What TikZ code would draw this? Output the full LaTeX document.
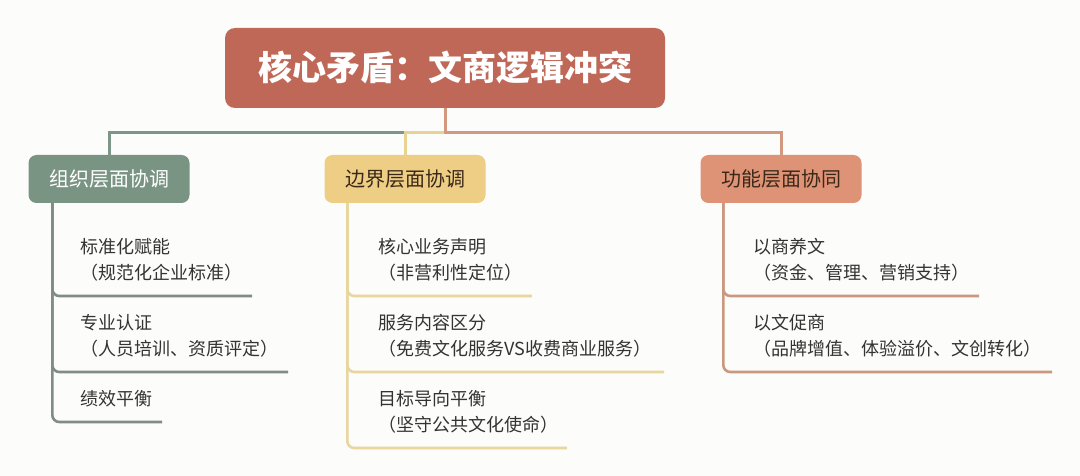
\documentclass[tikz,border=0pt]{standalone}
\usepackage{fontspec}
\setmainfont{Noto Sans CJK SC}
\usetikzlibrary{calc}

\definecolor{bgwhite}{RGB}{252,252,250}
\definecolor{rootred}{RGB}{192,104,88}
\definecolor{sage}{RGB}{122,148,132}
\definecolor{sageline}{RGB}{125,150,135}
\definecolor{sagetwig}{RGB}{128,140,132}
\definecolor{wheat}{RGB}{238,206,133}
\definecolor{wheatline}{RGB}{232,210,148}
\definecolor{wheattwig}{RGB}{232,214,158}
\definecolor{clay}{RGB}{222,146,118}
\definecolor{clayline}{RGB}{212,152,128}
\definecolor{claytwig}{RGB}{202,152,128}
\definecolor{darkink}{RGB}{58,40,24}
\definecolor{leafink}{RGB}{51,51,51}

\begin{document}
\begin{tikzpicture}[x=1pt,y=-1pt,
  box/.style={rounded corners=8pt, minimum width=161pt, minimum height=48pt, inner sep=0pt, font=\fontsize{20}{24}\selectfont},
  leaf/.style={anchor=west, align=left, inner sep=0pt, text=leafink, font=\fontsize{18}{26}\selectfont},
  link/.style={line width=3pt},
  twig/.style={line width=2.6pt, rounded corners=7pt}]

\useasboundingbox (0,0) rectangle (1080,476);
\fill[bgwhite] (0,0) rectangle (1080,476);

% root and the three branches
\node[fill=rootred, rounded corners=10pt, minimum width=440pt, minimum height=80pt, text=white, font=\fontsize{34}{38}\selectfont\bfseries] (R) at (445,68) {核心矛盾：文商逻辑冲突};
\node[box, fill=sage, text=white] (G) at (109,179) {组织层面协调};
\node[box, fill=wheat, text=darkink] (Y) at (405,179) {边界层面协调};
\node[box, fill=clay, text=darkink] (O) at (781,179) {功能层面协同};

\draw[link, sageline] (R.south) -- ++(0,24) -| (G.north);
\draw[link, wheatline] (R.south) -- ++(0,24) -| (Y.north);
\draw[link, clayline] (R.south) -- ++(0,24) -| (O.north);

% organisation
\coordinate (g1e) at (252,296);
\coordinate (g2e) at (288,372);
\coordinate (g3e) at (162,422);
\node[leaf] (g1) at (80,260) {标准化赋能\\（规范化企业标准）};
\node[leaf] (g2) at (80,335.5) {专业认证\\（人员培训、资质评定）};
\node[leaf] (g3) at (80,398.5) {绩效平衡};
\foreach \e in {g1e,g2e,g3e}
  \draw[twig, sagetwig] ([xshift=24pt]G.south west) |- (\e);

% boundary
\coordinate (y1e) at (532,296);
\coordinate (y2e) at (664,372);
\coordinate (y3e) at (567,448);
\node[leaf] (y1) at (378,260) {核心业务声明\\（非营利性定位）};
\node[leaf] (y2) at (378,335.5) {服务内容区分\\（免费文化服务VS收费商业服务）};
\node[leaf] (y3) at (378,411.5) {目标导向平衡\\（坚守公共文化使命）};
\foreach \e in {y1e,y2e,y3e}
  \draw[twig, wheattwig] ([xshift=23pt]Y.south west) |- (\e);

% function
\coordinate (o1e) at (979,296);
\coordinate (o2e) at (1052,372);
\node[leaf] (o1) at (753,260) {以商养文\\（资金、管理、营销支持）};
\node[leaf] (o2) at (753,335.5) {以文促商\\（品牌增值、体验溢价、文创转化）};
\foreach \e in {o1e,o2e}
  \draw[twig, claytwig] ([xshift=23pt]O.south west) |- (\e);

\end{tikzpicture}
\end{document}
